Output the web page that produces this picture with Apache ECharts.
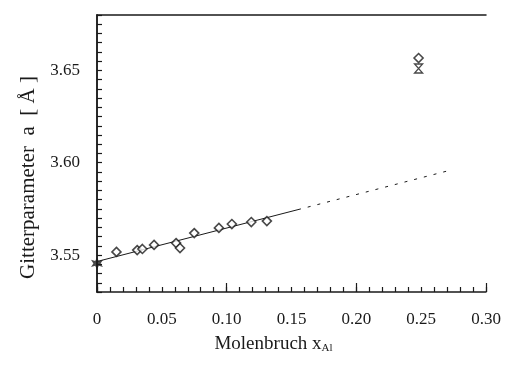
<!DOCTYPE html>
<html>
<head>
<meta charset="utf-8">
<script src="https://cdn.jsdelivr.net/npm/echarts@6/dist/echarts.min.js"></script>
<style>
  html, body { margin: 0; padding: 0; background: #fff; }
  #chart { width: 513px; height: 367px; }
</style>
</head>
<body>
<div id="chart"></div>
<script>
// measured points (open diamonds)
const xAl = [0.015, 0.031, 0.035, 0.044, 0.061, 0.064, 0.075, 0.094, 0.104, 0.119, 0.131, 0.248];
const latticeA = [3.5517, 3.5527, 3.5533, 3.5555, 3.5565, 3.5538, 3.5619, 3.5647, 3.5668, 3.5679, 3.5684, 3.6567];
// pure Ni reference (star) and second high-x point (hourglass)
const refX = [0];
const refA = [3.5455];
const extraX = [0.248];
const extraA = [3.651];
// fitted line: solid part, dashed extrapolation
const fitX = [0, 0.155];
const fitA = [3.5465, 3.5746];
const extX = [0.155, 0.27];
const extA = [3.5746, 3.5955];

const ink = '#1a1a1a';
const serif = 'Liberation Serif, Times New Roman, serif';

const pairs = (xs, ys) => xs.map((x, i) => [x, ys[i]]);
const isStep = (v, step) => Math.abs(v / step - Math.round(v / step)) < 1e-6;

const chart = echarts.init(document.getElementById('chart'));

chart.setOption({
	animation: false,
	backgroundColor: '#fff',
	grid: { left: 97, right: 27, top: 15, bottom: 75 },
	xAxis: [
		{
			type: 'value',
			min: 0,
			max: 0.3,
			interval: 0.01,
			axisLine: { show: true, lineStyle: { color: ink, width: 1.5 } },
			axisTick: { show: true, inside: true, length: 5, lineStyle: { color: ink, width: 1.2 } },
			splitLine: { show: false },
			axisLabel: {
				margin: 19,
				color: ink,
				fontFamily: serif,
				fontSize: 17,
				formatter: (v) => (v === 0 ? '0' : isStep(v, 0.05) ? v.toFixed(2) : '')
			},
			name: '{t|Molenbruch }{x|x}{s|Al}',
			nameLocation: 'middle',
			nameGap: 43,
			nameTextStyle: {
				padding: [0, 36, 0, 0],
				rich: {
					t: { fontFamily: serif, fontSize: 19, color: ink },
					x: { fontFamily: serif, fontSize: 19, color: ink },
					s: { fontFamily: serif, fontSize: 11, color: ink, verticalAlign: 'bottom', padding: [8, 0, 0, 0] }
				}
			}
		},
		{
			type: 'value',
			position: 'bottom',
			min: 0,
			max: 0.3,
			interval: 0.1,
			axisLine: { show: false },
			axisTick: { show: true, inside: true, length: 9, lineStyle: { color: ink, width: 1.2 } },
			axisLabel: { show: false },
			splitLine: { show: false }
		},
		{
			type: 'value',
			position: 'top',
			min: 0,
			max: 0.3,
			axisLine: { show: true, lineStyle: { color: ink, width: 1.5 } },
			axisTick: { show: false },
			axisLabel: { show: false },
			splitLine: { show: false }
		}
	],
	yAxis: [
		{
			type: 'value',
			min: 3.53,
			max: 3.68,
			interval: 0.005,
			axisLine: { show: true, lineStyle: { color: ink, width: 1.5 } },
			axisTick: { show: true, inside: true, length: 5, lineStyle: { color: ink, width: 1.2 } },
			splitLine: { show: false },
			axisLabel: {
				margin: 17,
				color: ink,
				fontFamily: serif,
				fontSize: 17,
				formatter: (v) => (isStep(v, 0.05) ? v.toFixed(2) : '')
			},
			name: 'Gitterparameter  a  [ Å ]',
			nameLocation: 'middle',
			nameRotate: 90,
			nameGap: 55,
			nameTextStyle: { fontFamily: serif, fontSize: 21, color: ink, padding: [0, 48, 0, 0] }
		},
		{
			type: 'value',
			position: 'right',
			min: 3.53,
			max: 3.68,
			axisLine: { show: true, lineStyle: { color: ink, width: 1.5 } },
			axisTick: { show: false },
			axisLabel: { show: false },
			splitLine: { show: false }
		}
	],
	series: [
		{
			type: 'line',
			data: pairs(fitX, fitA),
			symbol: 'none',
			lineStyle: { color: ink, width: 1 },
			z: 1
		},
		{
			type: 'line',
			data: pairs(extX, extA),
			symbol: 'none',
			lineStyle: { color: ink, width: 1, type: [3, 7] },
			z: 1
		},
		{
			type: 'scatter',
			data: pairs(xAl, latticeA),
			symbol: 'diamond',
			symbolSize: 9,
			itemStyle: { color: '#fff', borderColor: ink, borderWidth: 1.6 },
			z: 3
		},
		{
			type: 'scatter',
			data: pairs(refX, refA),
			symbol: 'path://M5,0 L6.5,3 L10,2 L8,5 L10,8 L6.5,7 L5,10 L3.5,7 L0,8 L2,5 L0,2 L3.5,3 Z',
			symbolSize: 12,
			itemStyle: { color: ink },
			z: 5
		},
		{
			type: 'scatter',
			data: pairs(extraX, extraA),
			symbol: 'path://M0,0 L10,0 L0,12 L10,12 Z',
			symbolSize: [8, 9],
			itemStyle: { color: '#fff', borderColor: ink, borderWidth: 1.3 },
			z: 3
		}
	]
});
</script>
</body>
</html>
